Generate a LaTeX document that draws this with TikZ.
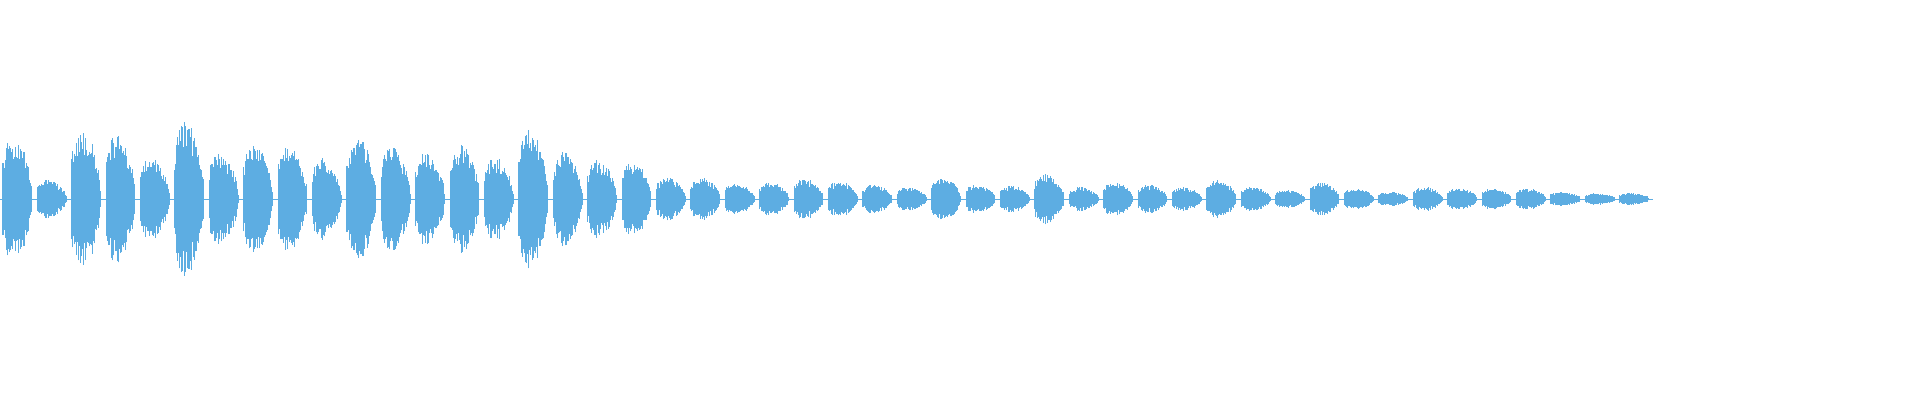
\documentclass[tikz,border=0pt]{standalone}
\usepackage{tikz}
\definecolor{wave}{RGB}{93,173,226}
\tikzset{
bar/.style={draw=wave, line width=1.1pt}, % one sample line
axisline/.style={draw=wave, line width=0.8pt},
}
\begin{document}
\begin{tikzpicture}[x=1pt, y=1pt]
\useasboundingbox (0,0) rectangle (1920,400);
\pgfmathsetseed{7}
\coordinate (start) at (0,201);
\coordinate (stop) at (1653,201);
\draw[axisline] (start) -- (stop);
\foreach \a [count=\i from 0] in {50,15,57,54,33,63,37,44,42,33,50,43,38,44,33,56,38,31,30,17,17,12,13,16,14,11,9,17,11,10,20,9,13,11,9,15,9,7,13,8,5,9,8,8,8,5,4,4}{
    \foreach \k in {0,...,41}{
        \pgfmathsetmacro\t{\k/41}
        \pgfmathsetmacro\env{0.12+0.88*sin(180*(0.06+0.94*\t)^0.75)^0.6}
        \pgfmathsetmacro\h{1.2245*\a*(0.6+0.4*rnd)*\env+1}
        \pgfmathsetmacro\xx{\i*34.4+3+\k*0.7}
        \draw[bar] (\xx,201-\h) -- (\xx,201+\h);
    }
}
\end{tikzpicture}
\end{document}
